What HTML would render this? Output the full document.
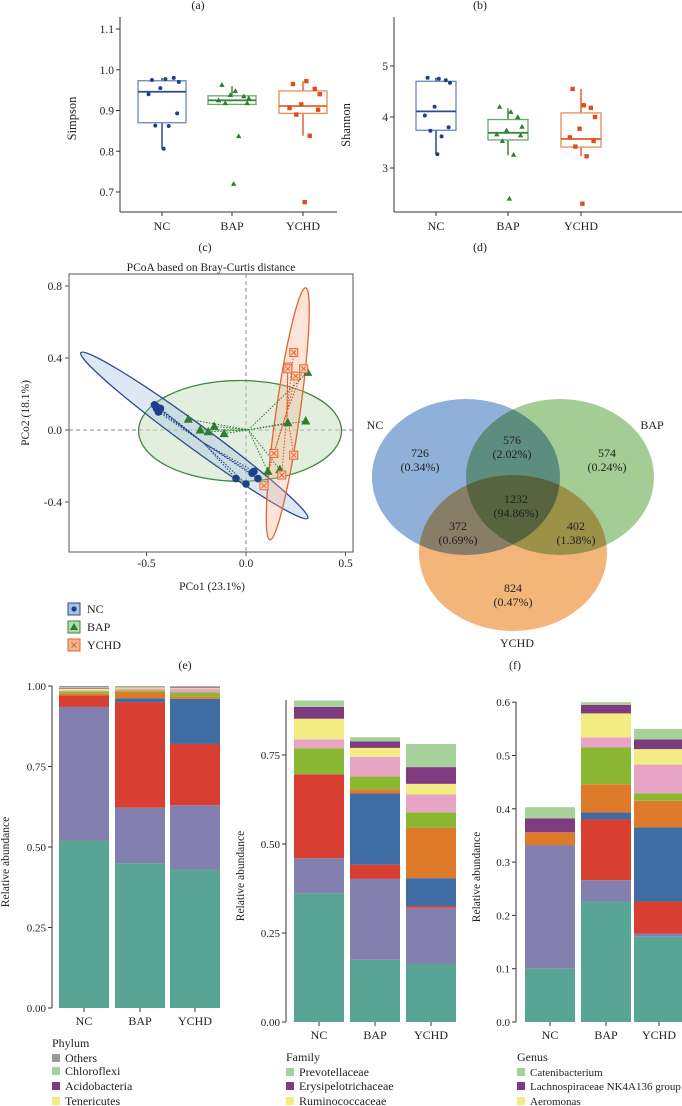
<!DOCTYPE html>
<html><head><meta charset="utf-8">
<style>
html,body{margin:0;padding:0;background:#fff;}
svg{display:block;font-family:"Liberation Serif",serif;}
svg text{font-family:"Liberation Serif",serif;}
</style></head>
<body>
<svg id="fig" width="682" height="1106" viewBox="0 0 682 1106" xmlns="http://www.w3.org/2000/svg" font-family="Liberation Serif, serif">
<g id="pa"></g>
<g id="pb"></g>
<g id="pc"></g>
<g id="pd"></g>
<g id="pe"></g>
<g id="pf"></g>
<g id="pg"></g>
</svg>
<script>
// ---------- data ----------
const groups = ["NC","BAP","YCHD"];
const simpsonBox = [[0.806,0.870,0.946,0.973,0.980],[0.915,0.915,0.925,0.936,0.960],[0.838,0.893,0.911,0.948,0.972]];
const simpsonNC = [0.975,0.977,0.980,0.970,0.955,0.940,0.893,0.863,0.862,0.806];
const simpsonBAP = [0.963,0.948,0.935,0.930,0.938,0.925,0.918,0.918,0.837,0.720];
const simpsonYCHD = [0.965,0.972,0.953,0.940,0.915,0.906,0.902,0.890,0.838,0.675];
const simpsonTicks = [0.7,0.8,0.9,1.0,1.1];
const shannonBox = [[3.27,3.74,4.11,4.70,4.77],[3.25,3.55,3.69,3.95,4.17],[3.23,3.41,3.57,4.08,4.55]];
const shannonNC = [4.77,4.75,4.72,4.67,4.20,4.03,3.80,3.73,3.62,3.27];
const shannonBAP = [4.20,4.10,4.00,3.81,3.74,3.66,3.64,3.53,3.26,2.40];
const shannonYCHD = [4.55,4.23,4.18,4.00,3.77,3.60,3.53,3.42,3.23,2.30];
const shannonTicks = [3,4,5];
const jitterPattern = [-0.3,0.1,0.35,0.5,-0.05,-0.4,0.45,-0.2,0.2,0.05];

const pcoaNCx = [-0.46,-0.45,-0.44,-0.43,-0.45,0.03,0.04,0.06,-0.05,0.0];
const pcoaNCy = [0.14,0.12,0.10,0.12,0.13,-0.24,-0.23,-0.27,-0.27,-0.30];
const pcoaBAPx = [-0.29,-0.23,-0.16,-0.19,-0.11,0.11,0.17,0.21,0.30,0.31];
const pcoaBAPy = [0.06,0.0,0.02,-0.01,-0.02,-0.23,-0.22,0.04,0.05,0.32];
const pcoaYCHDx = [0.24,0.21,0.29,0.25,0.14,0.24,0.18,0.09,0.21];
const pcoaYCHDy = [0.43,0.35,0.34,0.30,-0.13,-0.14,-0.25,-0.31,0.34];
const pcoaXTicks = [-0.5,0.0,0.5];
const pcoaYTicks = [-0.4,0.0,0.4,0.8];

const vennLabels = ["726","576","574","1232","372","402","824"];
const vennPct = ["(0.34%)","(2.02%)","(0.24%)","(94.86%)","(0.69%)","(1.38%)","(0.47%)"];

const phylumNC = [0.52,0.415,0.036,0,0.005,0.007,0.003,0.006,0.002,0.002,0.004];
const phylumBAP = [0.45,0.172,0.328,0.012,0.02,0.005,0.005,0.004,0.001,0.001,0.002];
const phylumYCHD = [0.43,0.20,0.19,0.14,0.007,0.013,0.012,0.003,0.002,0.001,0.002];
const phylumTicks = [0,0.25,0.5,0.75,1.0];
const familyNC = [0.362,0.098,0.236,0,0,0.073,0.025,0.058,0.033,0.018];
const familyBAP = [0.175,0.227,0.04,0.2,0.012,0.036,0.055,0.025,0.018,0.012];
const familyYCHD = [0.163,0.158,0.005,0.078,0.142,0.043,0.05,0.03,0.047,0.065];
const familyTicks = [0,0.25,0.5,0.75];
const genusNC = [0.1,0.232,0,0,0.024,0,0,0,0.026,0.021];
const genusBAP = [0.226,0.04,0.114,0.013,0.053,0.069,0.019,0.045,0.016,0.005];
const genusYCHD = [0.16,0.006,0.06,0.139,0.05,0.014,0.054,0.029,0.018,0.02];
const genusTicks = [0,0.1,0.2,0.3,0.4,0.5,0.6];
const phylumLegend = ["Others","Chloroflexi","Acidobacteria","Tenericutes"];
const familyLegend = ["Prevotellaceae","Erysipelotrichaceae","Ruminococcaceae"];
const genusLegend = ["Catenibacterium","Lachnospiraceae NK4A136 group","Aeromonas"];

// ---------- helpers ----------
const NS="http://www.w3.org/2000/svg";
function mk(parent,tag,attrs,text){const e=document.createElementNS(NS,tag);for(const k in attrs)e.setAttribute(k,attrs[k]);if(text!==undefined)e.textContent=text;parent.appendChild(e);return e;}
function txt(parent,x,y,s,size,anchor,name,extra){const t=mk(parent,"text",Object.assign({x:x,y:y,"font-size":size,"text-anchor":anchor||"middle",fill:"#222","font-family":"Liberation Serif, serif"},extra||{}),s);


return t;}
const stackColors=["#58a595","#8380b0","#d83f30","#3f6da3","#e07a2b","#8ab832","#e8a4c5","#f3ec82","#7e3b7f","#a6d19a","#9a9a9a"];
const lineCol=["#2c4a8c","#3a8a3a","#e06530"], boxCol=["#6a86c0","#6aa86a","#ec8a5c"], ptCol=["#1f3f8a","#2e7d32","#d9501e"];

// ---------- box plots ----------
function boxPanel(g,label,lx,ax,xs,yfn,ticks,boxes,pts,ylabel,bw,xEnd){
  txt(g,lx,9,label,12,"middle","panel-label");
  const yAxis=mk(g,"line",{x1:ax,y1:17,x2:ax,y2:212,stroke:"#333"});
  
  
  const xAxis=mk(g,"line",{x1:ax,y1:212,x2:xEnd,y2:212,stroke:"#333"});
  
  
  ticks.forEach(v=>{const y=yfn(v);mk(g,"line",{x1:ax-4,y1:y,x2:ax,y2:y,stroke:"#333"});txt(g,ax-6,y+4,v.toFixed(1).replace(/\.0$/, ticks[0]>=1?"":".0"),11.5,"end","y-tick-label");});
  txt(g,0,0,ylabel,12.5,"middle","y-axis-title",{transform:`translate(${ax-44},${yfn((ticks[0]+ticks[ticks.length-1])/2)+8}) rotate(-90)`});
  groups.forEach((gr,i)=>{
    const cx=xs[i],b=boxes[i];
    mk(g,"line",{x1:cx,y1:212,x2:cx,y2:216,stroke:"#333"});
    txt(g,cx,230,gr,12,"middle","x-tick-label");
    const w=mk(g,"line",{x1:cx,y1:yfn(b[0]),x2:cx,y2:yfn(b[4]),stroke:lineCol[i],"stroke-width":1.5});
    
    
    const r=mk(g,"rect",{x:cx-bw/2,y:yfn(b[3]),width:bw,height:yfn(b[1])-yfn(b[3]),fill:"#fff",stroke:boxCol[i],"stroke-width":1.3});
    
    
    mk(g,"line",{x1:cx-bw/2,y1:yfn(b[2]),x2:cx+bw/2,y2:yfn(b[2]),stroke:lineCol[i],"stroke-width":1.8});
    pts[i].forEach((v,j)=>{
      const px=cx+jitterPattern[j]*bw*0.7, py=yfn(v);let p;
      if(i==0)p=mk(g,"circle",{cx:px,cy:py,r:2,fill:ptCol[i]});
      else if(i==1)p=mk(g,"path",{d:`M${px},${py-2.8}L${px+2.7},${py+2}L${px-2.7},${py+2}Z`,fill:ptCol[i]});
      else p=mk(g,"rect",{x:px-2.2,y:py-2.2,width:4.4,height:4.4,fill:ptCol[i]});
      
      
    });
  });
}
const ya=v=>192-(v-0.7)*407.5;
boxPanel(document.getElementById("pa"),"(a)",198,120,[162,232,303],ya,simpsonTicks,simpsonBox,[simpsonNC,simpsonBAP,simpsonYCHD],"Simpson",48,337);
const yb=v=>117-(v-4)*51;
boxPanel(document.getElementById("pb"),"(b)",480,394,[436,508,581],yb,shannonTicks,shannonBox,[shannonNC,shannonBAP,shannonYCHD],"Shannon",40,682);

// ---------- PCoA ----------
(function(){
  const g=document.getElementById("pc");
  const px=x=>246+x*199, py=y=>430-y*180;
  txt(g,205,251,"(c)",12,"middle","panel-label");
  txt(g,211,271,"PCoA based on Bray-Curtis distance",11.5,"middle","chart-title");
  const frame=mk(g,"rect",{x:69,y:274,width:284,height:278,fill:"none",stroke:"#555"});
  
  
  mk(g,"line",{x1:px(0),y1:274,x2:px(0),y2:552,stroke:"#888","stroke-dasharray":"4,3"});
  mk(g,"line",{x1:69,y1:py(0),x2:353,y2:py(0),stroke:"#888","stroke-dasharray":"4,3"});
  pcoaXTicks.forEach(v=>{mk(g,"line",{x1:px(v),y1:552,x2:px(v),y2:556,stroke:"#555"});txt(g,px(v),567,v.toFixed(1),11.5,"middle","x-tick-label");});
  pcoaYTicks.forEach(v=>{mk(g,"line",{x1:65,y1:py(v),x2:69,y2:py(v),stroke:"#555"});txt(g,62,py(v)+4,v.toFixed(1),11.5,"end","y-tick-label");});
  txt(g,212,590,"PCo1 (23.1%)",11.5,"middle","x-axis-title");
  txt(g,0,0,"PCo2 (18.1%)",11.5,"middle","y-axis-title",{transform:"translate(29,413) rotate(-90)"});
  function ellEnds(x1,y1,x2,y2,minor,fill,stroke,name){
    const a=[px(x1),py(y1)],b=[px(x2),py(y2)];const cx=(a[0]+b[0])/2,cy=(a[1]+b[1])/2;
    const len=Math.hypot(b[0]-a[0],b[1]-a[1])/2, ang=Math.atan2(b[1]-a[1],b[0]-a[0])*180/Math.PI;
    const e=mk(g,"ellipse",{cx:cx,cy:cy,rx:len,ry:minor,transform:`rotate(${ang} ${cx} ${cy})`,fill:fill,"fill-opacity":0.35,stroke:stroke,"stroke-width":1.3});
    
    
  }
  const ge=mk(g,"ellipse",{cx:px(-0.03),cy:py(-0.005),rx:0.51*199,ry:0.28*180,fill:"#c6e0c0","fill-opacity":0.5,stroke:"#3a8a3a","stroke-width":1.3});
  
  
  ellEnds(-0.83,0.43,0.31,-0.49,12,"#9fbde0","#2c4a8c","ellipse-nc");
  ellEnds(0.30,0.79,0.12,-0.61,12,"#f6b48e","#e06530","ellipse-ychd");
  const sets=[[pcoaNCx,pcoaNCy],[pcoaBAPx,pcoaBAPy],[pcoaYCHDx,pcoaYCHDy]];
  sets.forEach((s,i)=>{
    const mx=s[0].reduce((a,b)=>a+b,0)/s[0].length, my=s[1].reduce((a,b)=>a+b,0)/s[1].length;
    s[0].forEach((x,j)=>{mk(g,"line",{x1:px(x),y1:py(s[1][j]),x2:px(mx),y2:py(my),stroke:ptCol[i],"stroke-width":1,"stroke-dasharray":"1.5,1.5"});});
  });
  sets.forEach((s,i)=>{
    s[0].forEach((x,j)=>{
      const X=px(x),Y=py(s[1][j]);let p;
      if(i==0)p=mk(g,"circle",{cx:X,cy:Y,r:3.8,fill:"#1f3f8a"});
      else if(i==1)p=mk(g,"path",{d:`M${X},${Y-5}L${X+4.6},${Y+3.5}L${X-4.6},${Y+3.5}Z`,fill:"#2e7d32"});
      else{p=mk(g,"g",{});mk(p,"rect",{x:X-4,y:Y-4,width:8,height:8,fill:"#f9d3bd",stroke:"#e06530","stroke-width":1});mk(p,"path",{d:`M${X-2.5},${Y-2.5}L${X+2.5},${Y+2.5}M${X+2.5},${Y-2.5}L${X-2.5},${Y+2.5}`,stroke:"#e06530","stroke-width":1});}
      
      
    });
  });
  const ly=[609,627,645];
  groups.forEach((gr,i)=>{
    const lg=mk(g,"g",{});
    
    
    const y=ly[i];
    mk(lg,"rect",{x:68,y:y-6,width:12,height:12,fill:["#a9c2e4","#b5dbac","#f6b48e"][i],stroke:["#2c4a8c","#3a8a3a","#e06530"][i]});
    if(i==0)mk(lg,"circle",{cx:74,cy:y,r:2.6,fill:"#1f3f8a"});
    else if(i==1)mk(lg,"path",{d:`M74,${y-4}L78,${y+3}L70,${y+3}Z`,fill:"#2e7d32"});
    else mk(lg,"path",{d:`M71.5,${y-2.5}L76.5,${y+2.5}M76.5,${y-2.5}L71.5,${y+2.5}`,stroke:"#e06530"});
    txt(lg,87,y+4,gr,12,"start","legend-label");
  });
})();

// ---------- Venn ----------
(function(){
  const g=document.getElementById("pd");
  txt(g,480,251,"(d)",12,"middle","panel-label");
  const circ=[[466,477,"#8fb0d8","venn-nc"],[560,477,"#a3cd95","venn-bap"],[513,553,"#f3b57a","venn-ychd"]];
  circ.forEach(c=>{const e=mk(g,"ellipse",{cx:c[0],cy:c[1],rx:94,ry:78,fill:c[2],style:"mix-blend-mode:multiply"});
    
    });
  txt(g,375,429,"NC",12,"middle","venn-label-nc");
  txt(g,652,429,"BAP",12,"middle","venn-label-bap");
  txt(g,517,647,"YCHD",12,"middle","venn-label-ychd");
  const pos=[[420,453],[512,440],[607,453],[516,499],[458,526],[576,526],[513,588]];
  pos.forEach((p,i)=>{txt(g,p[0],p[1]+4,vennLabels[i],12,"middle","venn-count");txt(g,p[0],p[1]+18,vennPct[i],12,"middle","venn-percent");});
})();

// ---------- stacked bars ----------
function stackPanel(g,ax,y0,pxPerUnit,yTop,xs,bw,data,ticks,dec,ylabelX,title,titleX,legend,legendColors,legendY,legendSize){
  const y=v=>y0-v*pxPerUnit;
  const yAx=mk(g,"line",{x1:ax,y1:yTop,x2:ax,y2:y0,stroke:"#333"});
  
  
  ticks.forEach(v=>{mk(g,"line",{x1:ax-4,y1:y(v),x2:ax,y2:y(v),stroke:"#333"});txt(g,ax-6,y(v)+4,v.toFixed(dec),11,"end","y-tick-label");});
  txt(g,0,0,"Relative abundance",11.5,"middle","y-axis-title",{transform:`translate(${ylabelX},${(yTop+y0)/2+15}) rotate(-90)`});
  data.forEach((d,i)=>{
    let acc=0;
    d.forEach((v,k)=>{ if(v>0){const r=mk(g,"rect",{x:xs[i]-bw/2,y:y(acc+v),width:bw,height:v*pxPerUnit,fill:stackColors[k]});
      
      } acc+=v;});
    mk(g,"line",{x1:xs[i],y1:y0,x2:xs[i],y2:y0+4,stroke:"#333"});
    txt(g,xs[i],y0+17,groups[i],12,"middle","x-tick-label");
  });
  txt(g,titleX,legendY[0]-15,title,12,"start","legend-title");
  legend.forEach((s,i)=>{
    const lg=mk(g,"g",{});
    
    
    mk(lg,"rect",{x:titleX,y:legendY[i]-8,width:8,height:8,fill:legendColors[i]});
    txt(lg,titleX+13,legendY[i],s,legendSize,"start","legend-label");
  });
}
txt(document.getElementById("pe"),185,669,"(e)",12,"middle","panel-label");
txt(document.getElementById("pe"),515,669,"(f)",12,"middle","panel-label");
stackPanel(document.getElementById("pe"),52,1008,322,686,[84,140,195],50,[phylumNC,phylumBAP,phylumYCHD],phylumTicks,2,9,"Phylum",52,phylumLegend,["#9a9a9a","#a6d19a","#7e3b7f","#f3ec82"],[1062,1075,1090,1105],12);
stackPanel(document.getElementById("pf"),286,1022,356,700,[319,375,431],50,[familyNC,familyBAP,familyYCHD],familyTicks,2,244,"Family",286,familyLegend,["#a6d19a","#7e3b7f","#f3ec82"],[1076,1090,1105],12);
stackPanel(document.getElementById("pg"),516,1022,533,702,[550,606,659],50,[genusNC,genusBAP,genusYCHD],genusTicks,1,480,"Genus",517,genusLegend,["#a6d19a","#7e3b7f","#f3ec82"],[1076,1090,1105],11);
</script>
</body></html>
